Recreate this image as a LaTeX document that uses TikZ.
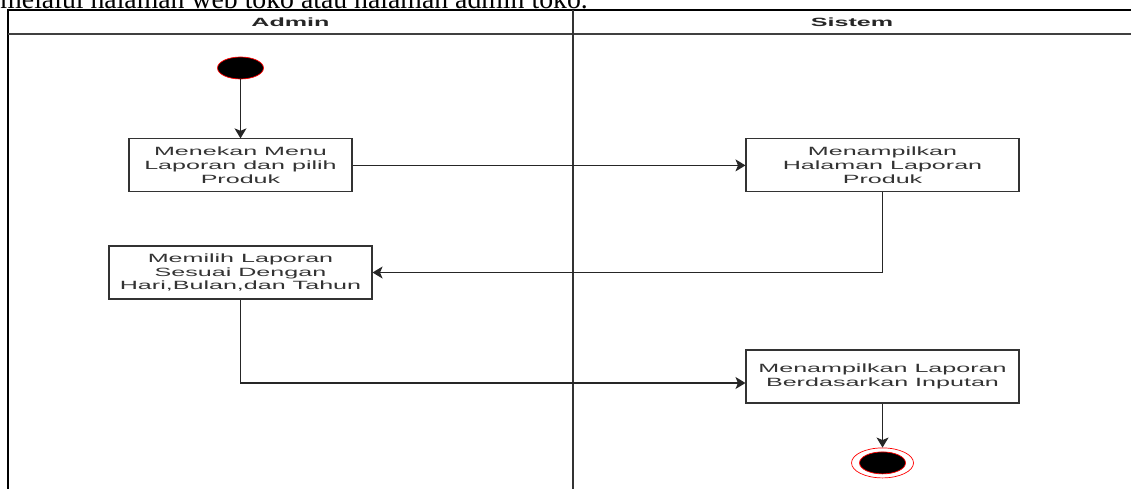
\documentclass[tikz,border=0pt]{standalone}
\usepackage{fontspec}
\newfontfamily\lanefont[FakeStretch=2.1]{Liberation Sans}
\newfontfamily\pagefont{Liberation Serif}
\usetikzlibrary{arrows.meta,positioning,shapes.geometric}

\begin{document}
\begin{tikzpicture}[
  x=0.02cm, y=-0.02cm,
  box/.style={draw=black!80, line width=0.65pt, align=center, inner sep=0pt,
              minimum height=1.06cm, text=black!80,
              font=\lanefont\fontsize{6.8}{7.8}\selectfont},
  lane/.style={font=\lanefont\bfseries\fontsize{6.8}{7.8}\selectfont, text=black!85},
  startdot/.style={ellipse, draw=red, line width=0.4pt, fill=black, inner sep=0pt,
                   minimum width=0.92cm, minimum height=0.44cm},
  enddot/.style={ellipse, draw=red, line width=0.4pt, inner sep=0pt,
                 minimum width=1.24cm, minimum height=0.6cm},
  arrow/.style={-{Stealth[length=2mm, width=2.4mm, inset=0.5mm]}, line width=0.7pt, draw=black!85}
]
\useasboundingbox (0,0) rectangle (1131,489);
\clip (0,0) rectangle (1131,489);

% text of the page above the figure
\node[anchor=base west, inner sep=0pt, font=\pagefont\fontsize{15.8}{18}\selectfont] (intro) at (0,9)
  {melalui halaman web toko atau halaman admin toko.};

% swimlanes
\draw[line width=0.9pt] (8,489) -- (8,10) -- (1131,10);
\draw[line width=0.8pt, black!75] (8,34) -- (1131,34);
\draw[line width=1.6pt, black!80] (573,10) -- (573,489);
\node[lane] (admin) at (290.5,22) {Admin};
\node[lane] (sistem) at (852,22) {Sistem};

% activities
\node[startdot] (start) at (240.5,68) {};
\node[box, minimum width=4.46cm, below=1.18cm of start] (menu) {Menekan Menu\\Laporan dan pilih\\Produk};
\node[box, minimum width=5.46cm, right=7.86cm of menu] (halaman) {Menampilkan\\Halaman Laporan\\Produk};
\node[box, minimum width=5.26cm, below=1.06cm of menu] (pilih) {Memilih Laporan\\Sesuai Dengan\\Hari,Bulan,dan Tahun};
\node[box, minimum width=5.46cm, below=3.14cm of halaman] (tampil) {Menampilkan Laporan\\Berdasarkan Inputan};
\node[enddot, below=0.88cm of tampil] (end) {};
\node[startdot] (endcore) at (end) {};

\draw[arrow] (start) -- (menu);
\draw[arrow] (menu) -- (halaman);
\draw[arrow] (halaman) |- (pilih);
\draw[arrow] (pilih) |- ([yshift=-1.3mm]tampil.west);
\draw[arrow] (tampil) -- (end);
\end{tikzpicture}
\end{document}
